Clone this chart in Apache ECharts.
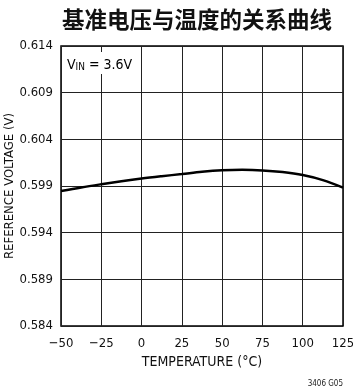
<!DOCTYPE html>
<html>
<head>
<meta charset="utf-8">
<script src="https://cdn.jsdelivr.net/npm/echarts@6/dist/echarts.min.js"></script>
<style>
  html, body { margin: 0; padding: 0; background: #fff; }
  #chart { width: 353px; height: 391px; }
</style>
</head>
<body>
<div id="chart"></div>
<script>
// Reference voltage vs. temperature, VIN = 3.6V
const temperatures = [-50, -37.5, -25, -12.5, 0, 12.5, 25, 37.5, 50, 62.5, 75, 87.5, 100, 112.5, 125];
const refVoltage = [0.59847, 0.59885, 0.59919, 0.59951, 0.5998, 0.60005, 0.60028, 0.60052, 0.60068, 0.60073, 0.60067, 0.60049, 0.60017, 0.59963, 0.59883];
const yTicks = [0.584, 0.589, 0.594, 0.599, 0.604, 0.609, 0.614];

const NARROW = '"Liberation Sans Narrow", "DejaVu Sans Condensed", "Liberation Sans", sans-serif';
const INK = '#111';

const chart = echarts.init(document.getElementById('chart'), null, { renderer: 'canvas' });

const points = temperatures.map((t, i) => [t, refVoltage[i]]);

chart.setOption({
  animation: false,
  backgroundColor: '#fff',
  grid: {
    left: 61, right: 10, top: 46, bottom: 65,
    outerBoundsMode: 'none',
    containLabel: false,
    show: true,
    borderColor: '#000',
    borderWidth: 1.5,
    backgroundColor: 'transparent'
  },
  xAxis: {
    type: 'value',
    min: -50, max: 125, interval: 25,
    name: 'TEMPERATURE (°C)',
    nameLocation: 'middle',
    nameGap: 27,
    nameTextStyle: { fontFamily: NARROW, fontSize: 14, color: INK },
    axisLine: { show: false },
    axisTick: { show: false },
    splitLine: { show: true, lineStyle: { color: '#222', width: 1 } },
    axisLabel: {
      margin: 11,
      fontFamily: NARROW, fontSize: 13, color: INK,
      formatter: v => String(v).replace('-', '\u2212')
    }
  },
  yAxis: [
    {
      type: 'value',
      min: 0.584, max: 0.614,
      axisLine: { show: false },
      axisTick: { show: false },
      splitLine: { show: false },
      axisLabel: {
        margin: 8,
        customValues: yTicks,
        fontFamily: NARROW, fontSize: 13, color: INK,
        formatter: v => v.toFixed(3)
      }
    },
    {
      // millivolts above 0.584 V, used only for the horizontal grid lines
      type: 'value',
      position: 'left',
      min: 0, max: 30, interval: 5,
      axisLine: { show: false },
      axisTick: { show: false },
      axisLabel: { show: false },
      splitLine: { show: true, lineStyle: { color: '#222', width: 1 } }
    }
  ],
  series: [{
    type: 'line',
    yAxisIndex: 0,
    data: points,
    smooth: 0.35,
    showSymbol: false,
    symbol: 'none',
    lineStyle: { color: '#000', width: 2.5 },
    z: 5
  }],
  graphic: [
    {
      type: 'text',
      x: 197,
      y: 8,
      style: {
        text: '基准电压与温度的关系曲线',
        align: 'center',
        verticalAlign: 'top',
        fontFamily: '"Noto Sans CJK SC", sans-serif',
        fontSize: 22.5,
        fontWeight: 'bold',
        fill: INK
      }
    },
    {
      type: 'text',
      x: 10,
      y: 186,
      rotation: Math.PI / 2,
      style: {
        text: 'REFERENCE VOLTAGE (V)',
        align: 'center',
        verticalAlign: 'middle',
        fontFamily: NARROW,
        fontSize: 13,
        fill: INK
      }
    },
    {
      type: 'text',
      left: 64,
      top: 52,
      z: 20,
      style: {
        text: '{a|V}{b|IN}{a| = 3.6V}',
        backgroundColor: '#fff',
        padding: [2, 3, 2, 3],
        rich: {
          a: { fontFamily: NARROW, fontSize: 14, color: INK, verticalAlign: 'bottom', lineHeight: 18 },
          b: { fontFamily: NARROW, fontSize: 10, color: INK, verticalAlign: 'bottom', lineHeight: 14 }
        }
      }
    },
    {
      type: 'text',
      right: 10,
      bottom: 3,
      style: {
        text: '3406 G05',
        fontFamily: NARROW,
        fontSize: 8,
        fill: '#222'
      }
    }
  ]
});
</script>
</body>
</html>
